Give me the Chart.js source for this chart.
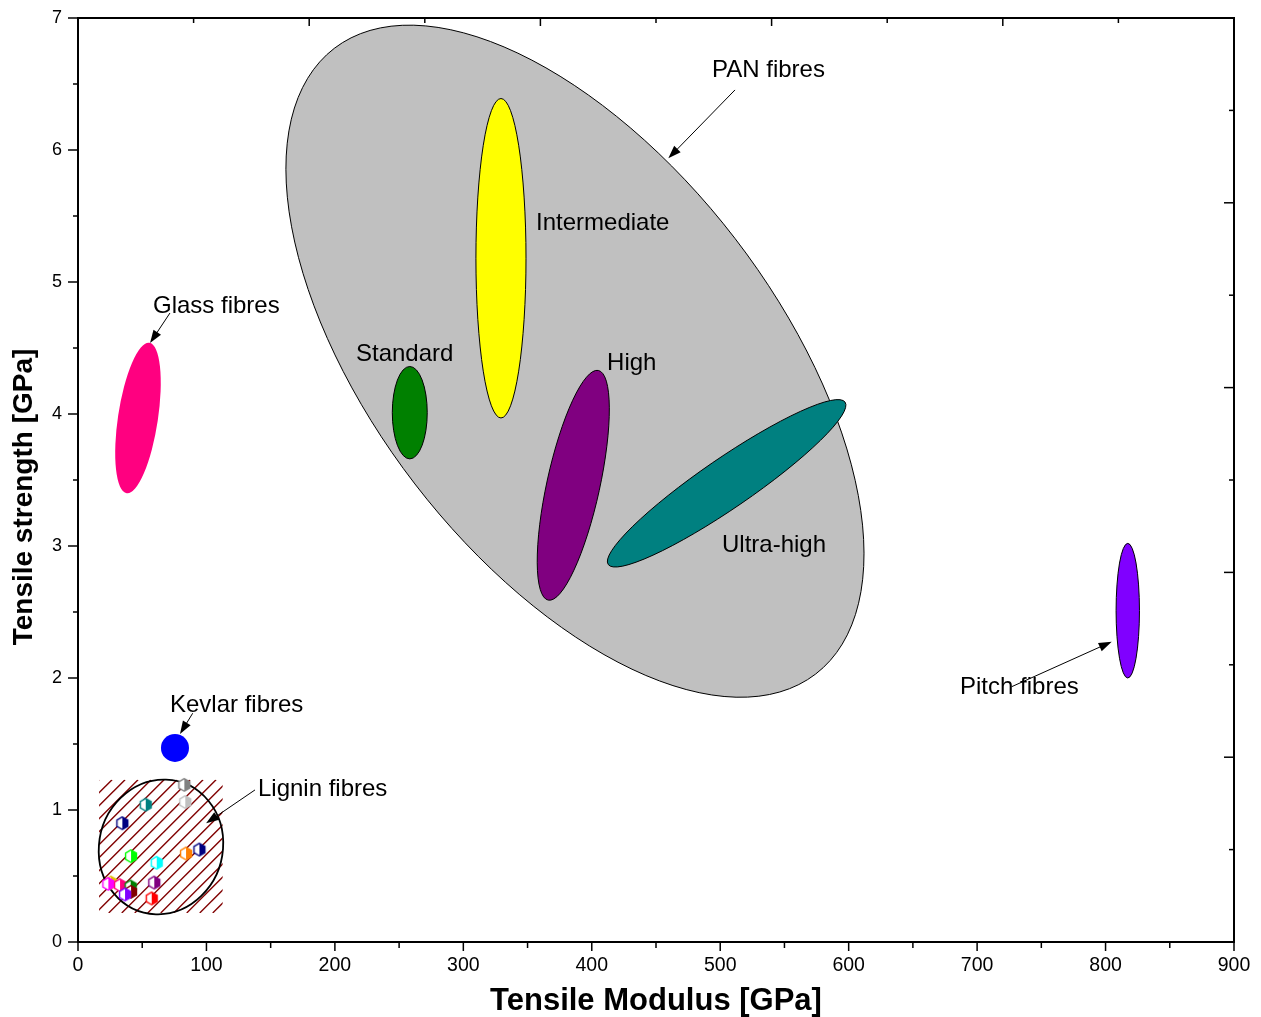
<!DOCTYPE html>
<html>
<head>
<meta charset="utf-8">
<title>Tensile strength vs tensile modulus of fibres</title>
<script src="https://cdn.jsdelivr.net/npm/chart.js@4.4.1/dist/chart.umd.min.js"></script>
<style>
  html, body { margin: 0; padding: 0; background: #fff; }
</style>
</head>
<body>
<canvas id="fibres" width="1261" height="1017"></canvas>
<script>
// both axes in GPa
const modulusRange = [0, 900];
const strengthRange = [0, 7];

// fibre families as ellipses: centre plus the ends of two conjugate semi-axes [modulus, strength]
const regionNames = ['PAN fibres', 'Intermediate', 'Standard', 'High', 'Ultra-high', 'Glass fibres', 'Pitch fibres'];
const regionCentre = [[386.9, 4.40], [329.3, 5.18], [258.3, 4.01], [385.6, 3.46], [505.0, 3.475], [46.7, 3.97], [817.3, 2.51]];
const regionMajorEnd = [[574.3, 2.03], [329.3, 6.39], [258.3, 4.36], [405.1, 4.33], [597.2, 4.09], [55.5, 4.54], [817.3, 3.02]];
const regionMinorEnd = [[511.5, 5.33], [348.8, 5.18], [271.9, 4.01], [405.8, 3.42], [516.1, 3.32], [62.1, 3.95], [826.4, 2.51]];
const regionColours = ['#c0c0c0', '#ffff00', '#008000', '#800080', '#008080', '#ff0080', '#8000ff'];
const regionOutlined = [true, true, true, true, true, false, true];

// Kevlar
const kevlarModulus = [75.5];
const kevlarStrength = [1.47];

// lignin based fibres
const ligninModulus = [82.8, 83.5, 52.7, 34.5, 41.3, 61.3, 84.1, 94.5, 25.7, 23.6, 32.7, 41.0, 41.3, 36.6, 59.4, 57.4];
const ligninStrength = [1.19, 1.06, 1.04, 0.90, 0.65, 0.60, 0.67, 0.70, 0.45, 0.44, 0.43, 0.42, 0.38, 0.36, 0.45, 0.33];
const ligninColours = ['#808080', '#c0c0c0', '#008080', '#000080', '#00ff00', '#00ffff', '#ff8000', '#000080',
  '#e0c000', '#ff00ff', '#ff0080', '#008000', '#800000', '#8000ff', '#800080', '#ff0000'];
const ligninCentre = [64.6, 0.72];
const ligninMajorEnd = [68.5, 1.23];
const ligninMinorEnd = [112.9, 0.705];
const ligninBox = [16.4, 0.22, 112.6, 1.23];

// labels and leader arrows, in data units
const notes = [
  { text: 'PAN fibres', at: [493.6, 6.60], from: [511.5, 6.455], to: [459.6, 5.937] },
  { text: 'Intermediate', at: [356.6, 5.447] },
  { text: 'Glass fibres', at: [58.4, 4.818], from: [71.6, 4.765], to: [56.1, 4.538] },
  { text: 'Standard', at: [216.4, 4.455] },
  { text: 'High', at: [411.9, 4.386] },
  { text: 'Ultra-high', at: [501.4, 3.008] },
  { text: 'Pitch fibres', at: [686.7, 1.932], from: [726.9, 1.934], to: [804.8, 2.275] },
  { text: 'Kevlar fibres', at: [71.6, 1.795], from: [89.3, 1.733], to: [79.4, 1.576] },
  { text: 'Lignin fibres', at: [140.1, 1.159], from: [137.8, 1.152], to: [99.7, 0.899] }
];

const FONT = '"Liberation Sans", Arial, Helvetica, sans-serif';
Chart.defaults.font.family = FONT;
Chart.defaults.color = '#000';

// half-filled hexagon marker
function hexMarker(colour) {
  const c = document.createElement('canvas');
  c.width = c.height = 16;
  const g = c.getContext('2d');
  const r = 6.3, cx = 8, cy = 8;
  const p = [];
  for (let k = 0; k < 6; k++) {
    const t = Math.PI / 2 + k * Math.PI / 3;
    p.push([cx + r * Math.cos(t), cy - r * Math.sin(t)]);
  }
  const hex = () => { g.beginPath(); p.forEach((q, i) => i ? g.lineTo(q[0], q[1]) : g.moveTo(q[0], q[1])); g.closePath(); };
  hex(); g.fillStyle = '#fff'; g.fill();
  g.beginPath();
  g.moveTo(p[0][0], p[0][1]); g.lineTo(p[5][0], p[5][1]); g.lineTo(p[4][0], p[4][1]); g.lineTo(p[3][0], p[3][1]);
  g.closePath(); g.fillStyle = colour; g.fill();
  hex(); g.strokeStyle = colour; g.lineWidth = 1.4; g.stroke();
  return c;
}

function toPx(chart, v) {
  return [chart.scales.x.getPixelForValue(v[0]), chart.scales.y.getPixelForValue(v[1])];
}

function ellipsePath(ctx, chart, centre, majorEnd, minorEnd) {
  const [cx, cy] = toPx(chart, centre);
  const [ax, ay] = toPx(chart, majorEnd);
  const [bx, by] = toPx(chart, minorEnd);
  ctx.save();
  ctx.beginPath();
  ctx.transform(ax - cx, ay - cy, bx - cx, by - cy, cx, cy);
  ctx.arc(0, 0, 1, 0, Math.PI * 2);
  ctx.restore();
}

function arrow(ctx, a, b) {
  const ang = Math.atan2(b[1] - a[1], b[0] - a[0]);
  const L = 13, W = 4.5;
  const c = Math.cos(ang), s = Math.sin(ang);
  ctx.beginPath();
  ctx.moveTo(a[0], a[1]);
  ctx.lineTo(b[0] - L * 0.7 * c, b[1] - L * 0.7 * s);
  ctx.stroke();
  ctx.beginPath();
  ctx.moveTo(b[0], b[1]);
  ctx.lineTo(b[0] - L * c + W * s, b[1] - L * s - W * c);
  ctx.lineTo(b[0] - L * c - W * s, b[1] - L * s + W * c);
  ctx.closePath();
  ctx.fill();
}

// fixed axis sizes, no extra room for overhanging tick labels
function fixSize(w, h) {
  return s => {
    if (w !== null) s.width = w;
    if (h !== null) s.height = h;
    s.paddingTop = s.paddingBottom = s.paddingLeft = s.paddingRight = 0;
  };
}

const regionsPlugin = {
  id: 'regions',
  beforeDatasetsDraw(chart) {
    const ctx = chart.ctx;
    ctx.save();
    regionNames.forEach((name, i) => {
      ellipsePath(ctx, chart, regionCentre[i], regionMajorEnd[i], regionMinorEnd[i]);
      ctx.fillStyle = regionColours[i];
      ctx.fill();
      if (regionOutlined[i]) {
        ctx.strokeStyle = '#000';
        ctx.lineWidth = 1;
        ctx.stroke();
      }
    });

    // hatched lignin range
    const [x0, y0] = toPx(chart, [ligninBox[0], ligninBox[1]]);
    const [x1, y1] = toPx(chart, [ligninBox[2], ligninBox[3]]);
    ctx.save();
    ctx.beginPath();
    ctx.rect(x0, y1, x1 - x0, y0 - y1);
    ctx.clip();
    ctx.strokeStyle = '#800000';
    ctx.lineWidth = 1.4;
    const h = y0 - y1;
    for (let x = x0 - h; x < x1 + 2; x += 13) {
      ctx.beginPath();
      ctx.moveTo(x, y0);
      ctx.lineTo(x + h, y1);
      ctx.stroke();
    }
    ctx.restore();

    ellipsePath(ctx, chart, ligninCentre, ligninMajorEnd, ligninMinorEnd);
    ctx.strokeStyle = '#000';
    ctx.lineWidth = 1.8;
    ctx.stroke();
    ctx.restore();
  },
  afterDraw(chart) {
    const { ctx, chartArea: a, scales } = chart;
    ctx.save();

    // leaders and labels
    ctx.strokeStyle = '#000';
    ctx.fillStyle = '#000';
    ctx.lineWidth = 1;
    ctx.font = '24px ' + FONT;
    ctx.textBaseline = 'middle';
    ctx.textAlign = 'left';
    notes.forEach(n => {
      const [tx, ty] = toPx(chart, n.at);
      ctx.fillText(n.text, tx, ty);
    });
    notes.forEach(n => {
      if (n.from) arrow(ctx, toPx(chart, n.from), toPx(chart, n.to));
    });

    // tick marks: outward on bottom/left, inward on top/right
    ctx.lineWidth = 1.5;
    const seg = (x1, y1, x2, y2) => { ctx.beginPath(); ctx.moveTo(x1, y1); ctx.lineTo(x2, y2); ctx.stroke(); };
    for (let v = 0; v <= 900; v += 50) {
      const p = scales.x.getPixelForValue(v);
      seg(p, a.bottom, p, a.bottom + (v % 100 === 0 ? 9 : 6));
    }
    for (let v = 0; v <= 7; v += 0.5) {
      const p = scales.y.getPixelForValue(v);
      seg(a.left, p, a.left - (v % 1 === 0 ? 10 : 5), p);
    }
    for (let v = 1; v < 10; v++) {
      const p = scales.x2.getPixelForValue(v);
      seg(p, a.top, p, a.top + (v % 2 === 0 ? 8 : 5));
      const q = scales.y2.getPixelForValue(v);
      seg(a.right, q, a.right - (v % 2 === 0 ? 10 : 5), q);
    }
    ctx.lineWidth = 2;
    ctx.strokeRect(a.left, a.top, a.right - a.left, a.bottom - a.top);

    // axis titles
    ctx.font = 'bold 31px ' + FONT;
    ctx.textAlign = 'center';
    ctx.textBaseline = 'middle';
    ctx.fillText('Tensile Modulus [GPa]', (a.left + a.right) / 2, 1001);
    ctx.translate(24, 497);
    ctx.rotate(-Math.PI / 2);
    ctx.font = 'bold 28px ' + FONT;
    ctx.fillText('Tensile strength [GPa]', 0, 0);
    ctx.restore();
  }
};

new Chart(document.getElementById('fibres'), {
  type: 'scatter',
  data: {
    datasets: [
      {
        label: 'Lignin fibres',
        data: ligninModulus.map((x, i) => ({ x: x, y: ligninStrength[i] })),
        pointStyle: ligninColours.map(hexMarker),
        pointRadius: 6
      },
      {
        label: 'Kevlar fibres',
        data: kevlarModulus.map((x, i) => ({ x: x, y: kevlarStrength[i] })),
        pointRadius: 14,
        pointBackgroundColor: '#0000ff',
        pointBorderWidth: 0
      }
    ]
  },
  options: {
    responsive: false,
    animation: false,
    events: [],
    layout: { padding: { top: 18, right: 27, left: 0, bottom: 0 } },
    plugins: { legend: { display: false }, tooltip: { enabled: false } },
    scales: {
      x: {
        type: 'linear', position: 'bottom',
        min: modulusRange[0], max: modulusRange[1],
        afterFit: fixSize(null, 75),
        grid: { display: false, drawTicks: false },
        border: { display: false },
        ticks: { stepSize: 100, padding: 12, maxRotation: 0, font: { size: 19.5 } }
      },
      y: {
        type: 'linear', position: 'left',
        min: strengthRange[0], max: strengthRange[1],
        afterFit: fixSize(78, null),
        grid: { display: false, drawTicks: false },
        border: { display: false },
        ticks: { stepSize: 1, padding: 16, font: { size: 18 } }
      },
      x2: {
        type: 'linear', position: 'top', min: 0, max: 10,
        afterFit: fixSize(null, 0),
        grid: { display: false, drawTicks: false },
        border: { display: false },
        ticks: { display: false }
      },
      y2: {
        type: 'linear', position: 'right', min: 0, max: 10,
        afterFit: fixSize(0, null),
        grid: { display: false, drawTicks: false },
        border: { display: false },
        ticks: { display: false }
      }
    }
  },
  plugins: [regionsPlugin]
});
</script>
</body>
</html>
